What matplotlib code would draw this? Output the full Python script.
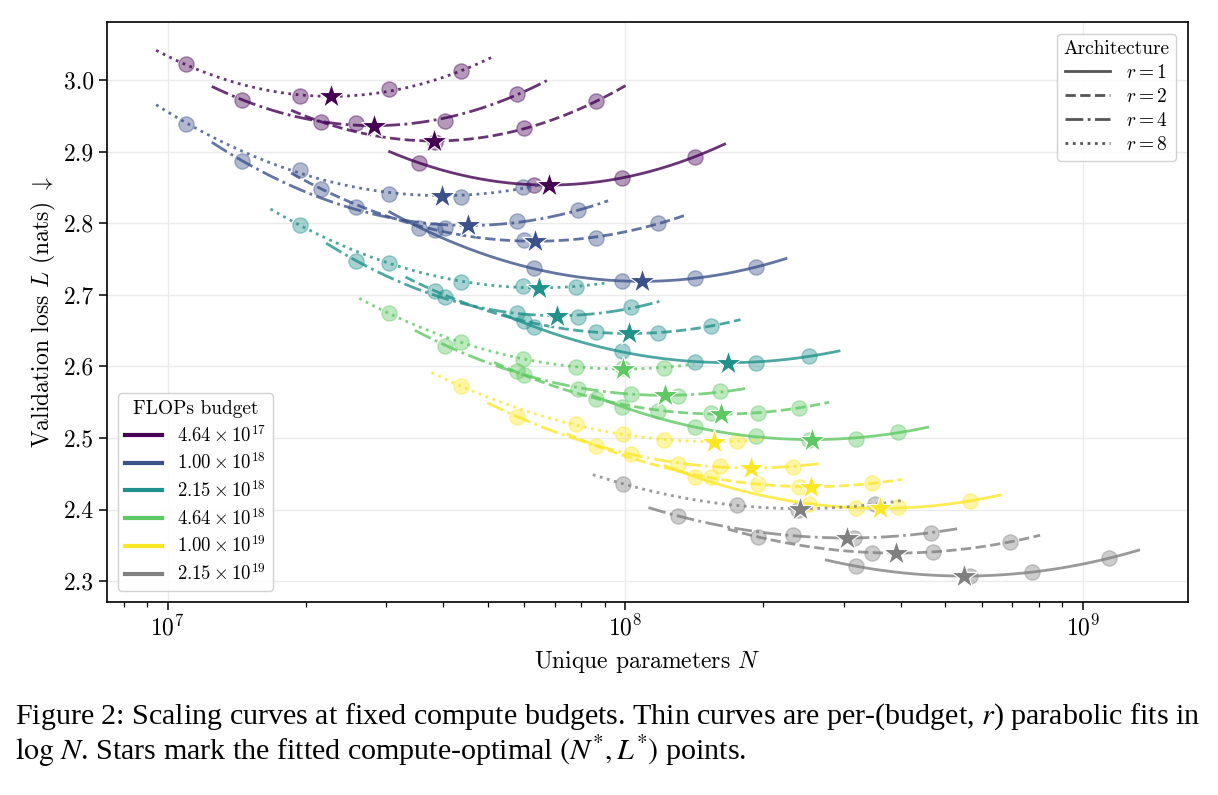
import matplotlib
matplotlib.use("Agg")
import matplotlib.pyplot as plt
from matplotlib.lines import Line2D
import numpy as np

plt.rcParams['font.family'] = 'serif'
plt.rcParams['font.serif'] = ['cmr10']
plt.rcParams['mathtext.fontset'] = 'cm'
plt.rcParams['axes.formatter.use_mathtext'] = True

# Unique parameter counts for depth 3..17 at each sharing factor r
n_r1 = [35.46e6, 63.04e6, 98.50e6, 141.8e6, 193.1e6, 252.2e6, 319.1e6, 394.0e6,
        476.7e6, 567.4e6, 665.9e6, 772.2e6, 886.5e6, 1009e6, 1139e6]
n_r2 = [21.60e6, 38.40e6, 60.00e6, 86.40e6, 117.6e6, 153.6e6, 194.4e6, 240.0e6,
        290.4e6, 345.6e6, 405.6e6, 470.4e6, 540.0e6, 614.4e6, 693.6e6]
n_r4 = [14.49e6, 25.76e6, 40.25e6, 57.96e6, 78.89e6, 103.0e6, 130.4e6, 161.0e6,
        194.8e6, 231.8e6, 272.1e6, 315.6e6, 362.3e6, 412.2e6, 465.3e6]
n_r8 = [10.95e6, 19.47e6, 30.42e6, 43.80e6, 59.62e6, 77.87e6, 98.55e6, 121.7e6,
        147.2e6, 175.2e6, 205.6e6, 238.5e6, 273.8e6, 311.5e6, 351.6e6]
first_depth = 3

budget_labels = [r'$4.64\times10^{17}$', r'$1.00\times10^{18}$', r'$2.15\times10^{18}$',
                 r'$4.64\times10^{18}$', r'$1.00\times10^{19}$', r'$2.15\times10^{19}$']
budget_colors = ['#440154', '#3b528b', '#21918c', '#5ec962', '#fde725', '#808080']
budget_depths = [[3, 4, 5, 6], [3, 4, 5, 6, 7], [4, 5, 6, 7, 8],
                 [5, 6, 7, 8, 9, 10], [6, 8, 9, 10, 12], [9, 12, 14, 17]]

# validation loss per budget (same order as budget_depths)
loss_r1 = [[2.884, 2.854, 2.863, 2.893],
           [2.794, 2.737, 2.719, 2.723, 2.739],
           [2.655, 2.622, 2.606, 2.605, 2.615],
           [2.543, 2.516, 2.503, 2.497, 2.498, 2.509],
           [2.446, 2.408, 2.402, 2.403, 2.412],
           [2.321, 2.307, 2.313, 2.332]]
loss_r2 = [[2.942, 2.914, 2.933, 2.970],
           [2.848, 2.791, 2.776, 2.779, 2.800],
           [2.705, 2.664, 2.648, 2.646, 2.657],
           [2.588, 2.555, 2.538, 2.535, 2.535, 2.542],
           [2.489, 2.445, 2.436, 2.431, 2.437],
           [2.362, 2.340, 2.341, 2.355]]
loss_r4 = [[2.972, 2.940, 2.943, 2.981],
           [2.887, 2.822, 2.794, 2.803, 2.818],
           [2.747, 2.697, 2.674, 2.669, 2.683],
           [2.629, 2.594, 2.569, 2.561, 2.559, 2.565],
           [2.530, 2.477, 2.464, 2.461, 2.460],
           [2.391, 2.364, 2.360, 2.368]]
loss_r8 = [[3.022, 2.977, 2.987, 3.012],
           [2.939, 2.874, 2.841, 2.836, 2.851],
           [2.797, 2.744, 2.718, 2.712, 2.711],
           [2.674, 2.634, 2.610, 2.599, 2.598, 2.598],
           [2.572, 2.519, 2.505, 2.497, 2.496],
           [2.436, 2.407, 2.400, 2.408]]

arch_r = [1, 2, 4, 8]
arch_sizes = [n_r1, n_r2, n_r4, n_r8]
arch_losses = [loss_r1, loss_r2, loss_r4, loss_r8]
arch_styles = ['-', '--', '-.', ':']

fig = plt.figure(figsize=(12.18, 7.95), dpi=100)
ax = fig.add_axes([0.0878, 0.2428, 0.8876, 0.7295])

for bi, color in enumerate(budget_colors):
    depths = budget_depths[bi]
    for r, sizes, losses, ls in zip(arch_r, arch_sizes, arch_losses, arch_styles):
        N = np.array([sizes[d - first_depth] for d in depths])
        L = np.array(losses[bi])
        x = np.log10(N)
        a, b, c = np.polyfit(x, L, 2)
        xs = np.linspace(x.min() - 0.065, x.max() + 0.065, 200)
        ax.plot(10 ** xs, a * xs ** 2 + b * xs + c, ls=ls, color=color, lw=2.0,
                alpha=0.8, zorder=3)
        ax.scatter(N, L, s=120, color=color, alpha=0.4, edgecolors=color,
                   linewidths=1.0, zorder=2)
        xv = -b / (2 * a)
        ax.plot(10 ** xv, a * xv ** 2 + b * xv + c, marker='*', ms=19, color=color,
                mec='white', mew=0.8, zorder=5, ls='none')

ax.set_xscale('log')
ax.set_xlim(7.36e6, 1.696e9)
ax.set_ylim(2.271, 3.081)
ax.set_yticks([2.3, 2.4, 2.5, 2.6, 2.7, 2.8, 2.9, 3.0])
ax.set_yticklabels(['2.3', '2.4', '2.5', '2.6', '2.7', '2.8', '2.9', '3.0'])
ax.grid(True, which='major', color='#ebebeb', lw=1.0, zorder=0)
ax.set_axisbelow(True)
ax.tick_params(axis='both', which='major', labelsize=17, length=6, width=1.1)
ax.tick_params(axis='x', which='minor', length=3.5, width=0.9)
for sp in ax.spines.values():
    sp.set_linewidth(1.2)

ax.set_xlabel(r'Unique parameters $N$', fontsize=17, labelpad=6)
ax.set_ylabel(r'Validation loss $L$ (nats) $\downarrow$', fontsize=17, labelpad=4)

budget_handles = [Line2D([], [], color=c, lw=3) for c in budget_colors]
leg1 = ax.legend(budget_handles, budget_labels, title='FLOPs budget', loc='lower left',
                 fontsize=13.5, title_fontsize=14, frameon=True, handlelength=2.0,
                 borderaxespad=0.6, labelspacing=0.36, framealpha=0.9,
                 edgecolor='#cccccc', borderpad=0.35)
ax.add_artist(leg1)

arch_handles = [Line2D([], [], color='#555555', lw=2, ls=s) for s in arch_styles]
arch_labels = [r'$r=%d$' % r for r in arch_r]
ax.legend(arch_handles, arch_labels, title='Architecture', loc='upper right',
          fontsize=14, title_fontsize=14, frameon=True, handlelength=2.3,
          borderaxespad=0.6, labelspacing=0.3, framealpha=0.9, edgecolor='#cccccc',
          borderpad=0.35)

cap_kw = dict(fontsize=21.6, family='Liberation Serif', math_fontfamily='stix', va='center')
fig.text(0.012, 1 - 717 / 795,
         r'Figure 2: Scaling curves at fixed compute budgets. Thin curves are per-(budget, $r$) parabolic fits in',
         **cap_kw)
fig.text(0.012, 1 - 751 / 795,
         r'$\log\,N$. Stars mark the fitted compute-optimal $(N^{*}, L^{*})$ points.', **cap_kw)

fig.savefig('out.png', dpi=100)
